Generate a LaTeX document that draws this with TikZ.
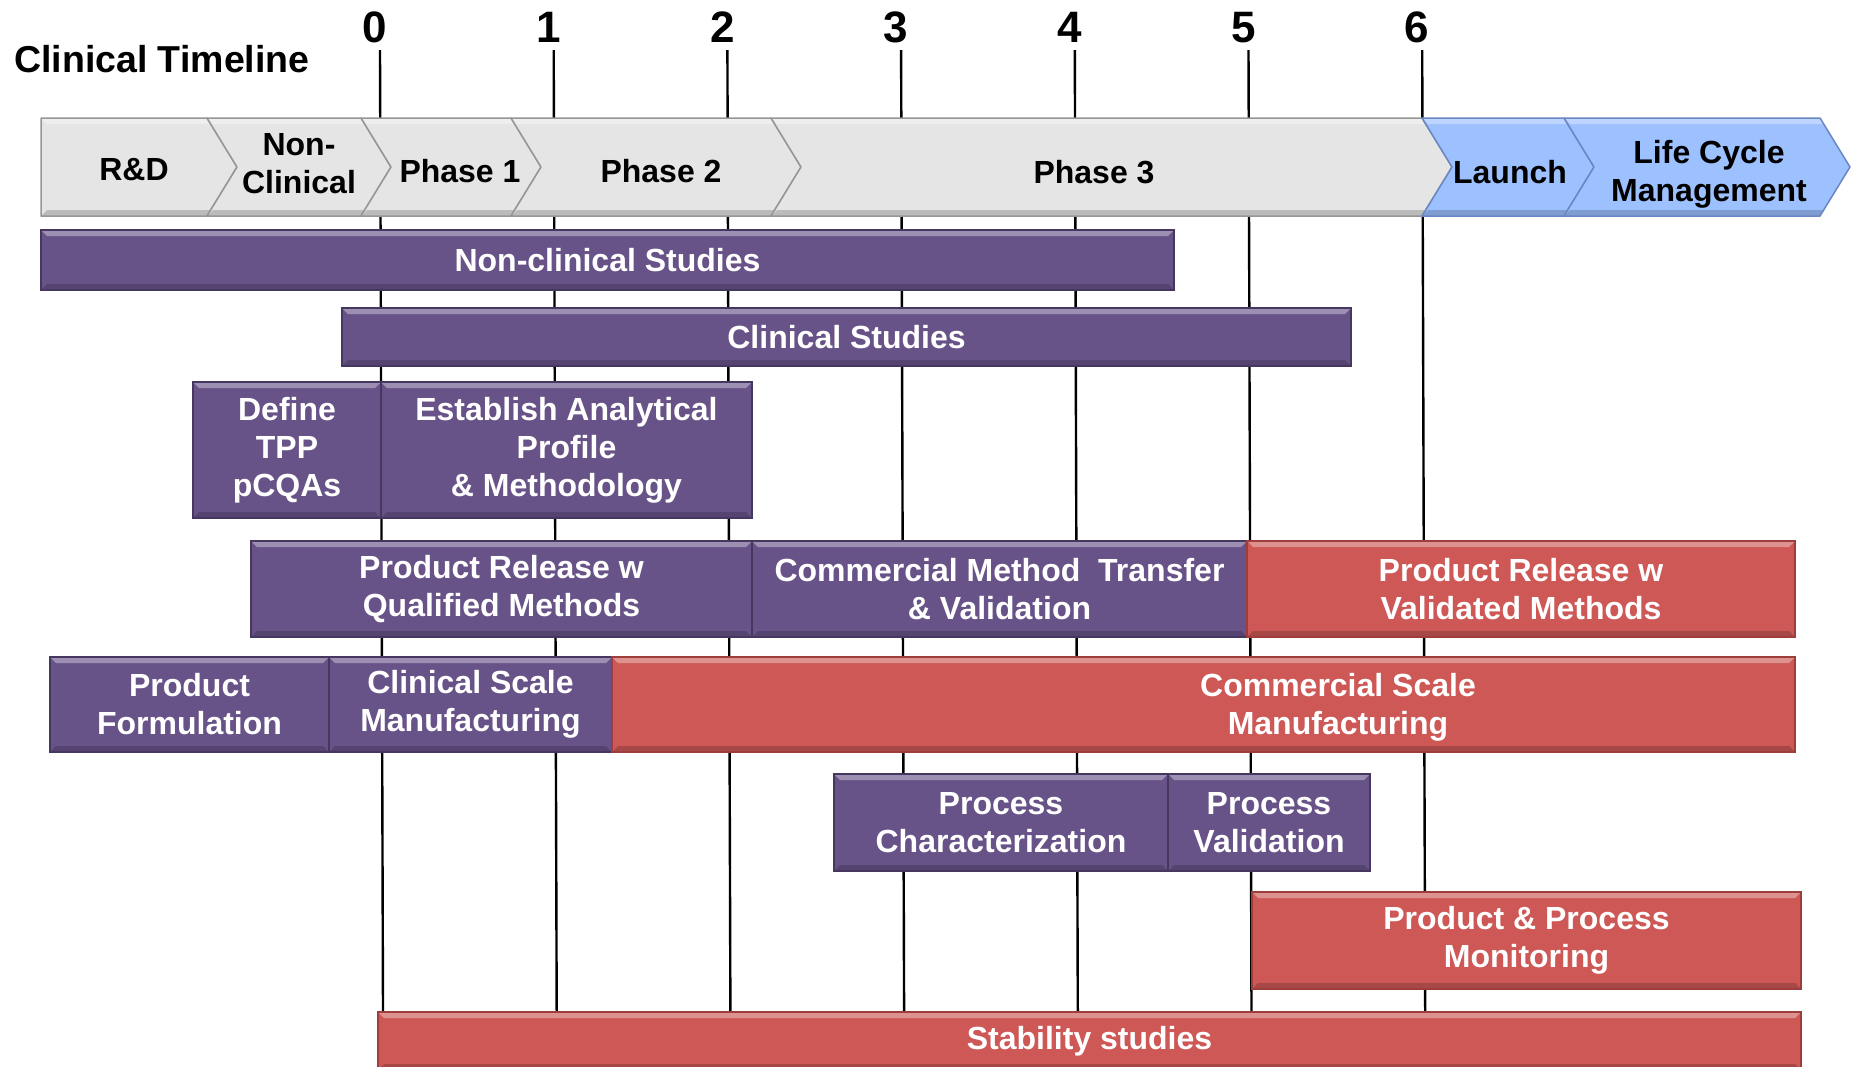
\documentclass[tikz,border=0pt]{standalone}
\usepackage{fontspec}
\setmainfont{Liberation Sans}
\usepackage{tikz}

\definecolor{chevgray}{RGB}{229,229,229}
\definecolor{chevedge}{RGB}{150,150,150}
\definecolor{chevblue}{RGB}{157,192,255}
\definecolor{blueedge}{RGB}{105,135,195}
\definecolor{purplebar}{RGB}{104,83,136}
\definecolor{purpleedge}{RGB}{70,55,96}
\definecolor{redbar}{RGB}{205,88,86}
\definecolor{rededge}{RGB}{158,62,60}

\tikzset{
  bevel/.style={path picture={
      \fill [white, opacity=0.35] (path picture bounding box.north west) -- (path picture bounding box.north east)
        -- ([shift={(-6pt,-6pt)}]path picture bounding box.north east) -- ([shift={(6pt,-6pt)}]path picture bounding box.north west) -- cycle;
      \fill [black, opacity=0.18] (path picture bounding box.south west) -- (path picture bounding box.south east)
        -- ([shift={(-6pt,6pt)}]path picture bounding box.south east) -- ([shift={(6pt,6pt)}]path picture bounding box.south west) -- cycle;}},
  chev/.style={draw=chevedge, line width=1.5pt, line join=round, bevel},
  lbl/.style={font=\fontsize{32}{38}\selectfont\bfseries, align=center, inner sep=0pt},
  pbar/.style={lbl, draw=purpleedge, fill=purplebar, line width=1.5pt, text=white, bevel},
  rbar/.style={lbl, draw=rededge, fill=redbar, line width=1.5pt, text=white, bevel},
  num/.style={font=\fontsize{44}{48}\selectfont\bfseries, anchor=base, inner sep=0pt},
  tick/.style={line width=2.4pt},
}

% name, style, x1, y1, x2, y2, text
\newcommand{\taskbar}[7]{%
  \node [#2, minimum width=#5-#3, minimum height=#6-#4] (#1) at ({(#3+#5)/2},{(#4+#6)/2}) {#7};}

\begin{document}
\begin{tikzpicture}[x=1pt, y=-1pt]
        \useasboundingbox [fill=white] (0,0) rectangle (1853,1066);

        \node [font=\fontsize{37.5}{42}\selectfont\bfseries, anchor=base west, inner sep=0pt] (title) at (14,72) {Clinical Timeline};

        % years
        \foreach \i in {0,...,6} {
          \node [num] (n\i) at ({375+173.7*\i},42) {\i};
          \coordinate (top\i) at ({380+173.7*\i},50);
          \coordinate (bot\i) at ({383+173.7*\i},1012);
          \draw [tick] (top\i) -- (bot\i);
        }

        % phases
        \draw [chev, fill=chevgray]  (41,118) -- (207,118) -- (237,167) -- (207,216) -- (41,216) -- cycle;                      %R&D
        \draw [chev, fill=chevgray]  (207,118) -- (361,118) -- (391,167) -- (361,216) -- (207,216) -- (237,167) -- cycle;       %NC
        \draw [chev, fill=chevgray]  (361,118) -- (511,118) -- (541,167) -- (511,216) -- (361,216) -- (391,167) -- cycle;       %P1
        \draw [chev, fill=chevgray]  (511,118) -- (771,118) -- (801,167) -- (771,216) -- (511,216) -- (541,167) -- cycle;       %P2
        \draw [chev, fill=chevgray]  (771,118) -- (1422,118) -- (1452,167) -- (1422,216) -- (771,216) -- (801,167) -- cycle;    %P3
        \draw [chev, draw=blueedge, fill=chevblue] (1422,118) -- (1564,118) -- (1594,167) -- (1564,216) -- (1422,216) -- (1452,167) -- cycle; %Launch
        \draw [chev, draw=blueedge, fill=chevblue] (1564,118) -- (1820,118) -- (1850,167) -- (1820,216) -- (1564,216) -- (1594,167) -- cycle; %LCM
        \node [lbl] (rd)  at (134,170)  {R\&D};
        \node [lbl] (nc)  at (299,164)  {Non-\\Clinical};
        \node [lbl] (ph1) at (460,171)  {Phase 1};
        \node [lbl] (ph2) at (661,171)  {Phase 2};
        \node [lbl] (ph3) at (1094,172) {Phase 3};
        \node [lbl] (lau) at (1510,172) {Launch};
        \node [lbl] (lcm) at (1709,174) {Life Cycle\\Management};

        % activities
        \taskbar{ncs}{pbar}{41}{230}{1174}{290}{Non-clinical Studies}
        \taskbar{cls}{pbar}{342}{308}{1351}{366}{Clinical Studies}
        \taskbar{tpp}{pbar}{193}{382}{381}{518}{Define\\TPP\\pCQAs}
        \taskbar{eap}{pbar}{381}{382}{752}{518}{Establish Analytical\\Profile\\\& Methodology}
        \taskbar{prq}{pbar}{251}{541}{752}{637}{Product Release w\\Qualified Methods}
        \taskbar{cmt}{pbar}{752}{541}{1247}{637}{Commercial Method~ Transfer\\\& Validation}
        \taskbar{prv}{rbar}{1247}{541}{1795}{637}{Product Release w\\Validated Methods}
        \taskbar{pf}{pbar}{50}{657}{329}{752}{Product\\Formulation}
        \taskbar{csm}{pbar}{329}{657}{612}{752}{Clinical Scale\\Manufacturing}
        \taskbar{com}{rbar}{612}{657}{1795}{752}{}
        \node [lbl, text=white] (comtxt) at (1338,707) {Commercial Scale\\Manufacturing};
        \taskbar{pch}{pbar}{834}{774}{1168}{871}{Process\\Characterization}
        \taskbar{pva}{pbar}{1168}{774}{1370}{871}{Process\\Validation}
        \taskbar{ppm}{rbar}{1252}{892}{1801}{989}{Product \& Process\\Monitoring}
        \taskbar{stb}{rbar}{378}{1012}{1801}{1070}{Stability studies}
\end{tikzpicture}
\end{document}
